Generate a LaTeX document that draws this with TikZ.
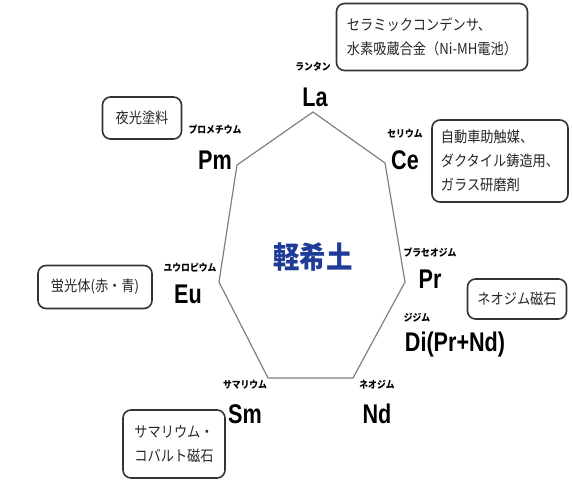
\documentclass[tikz,border=0pt]{standalone}
\usepackage{fontspec}
\setmainfont{Liberation Sans}
\newfontfamily\jpfont{Noto Sans CJK JP}[FakeStretch=0.88]
\newfontfamily\elfont{Liberation Sans}[FakeStretch=0.8]
\definecolor{kidoblue}{HTML}{1F3C98}
\definecolor{rahmen}{HTML}{333333}
\begin{document}
\begin{tikzpicture}[x=1pt,y=-1pt,
      usage/.style={draw=rahmen,line width=1.6pt,rounded corners=8pt,align=left,inner sep=0pt,
        text=black!85,font=\jpfont\fontsize{15}{24}\selectfont},
      elem/.style={inner sep=0pt,font=\elfont\bfseries\fontsize{27}{27}\selectfont},
      kana/.style={inner sep=0pt,font=\jpfont\bfseries\fontsize{10}{10}\selectfont},
      rim/.style={draw=gray,line width=1.2pt}]
    \useasboundingbox (0,0) rectangle (572,485);
    % heptagon
    \coordinate (vLa) at (313,112);
    \coordinate (vCe) at (385,163);
    \coordinate (vPr) at (405,282);
    \coordinate (vNd) at (353,378);
    \coordinate (vSm) at (268,378);
    \coordinate (vEu) at (219,282);
    \coordinate (vPm) at (237,165);
    \draw[rim] (vLa)--(vCe)--(vPr)--(vNd)--(vSm)--(vEu)--(vPm)--cycle;
    \node[font=\jpfont\bfseries\fontsize{30}{30}\selectfont,text=kidoblue] at (313,257) (light) {軽希土};
    % elements
    \node[kana] at (313,67) (kLa) {ランタン};
    \node[elem] at (315,97) (La) {La};
    \node[kana] at (215,130) (kPm) {プロメチウム};
    \node[elem] at (215,160) (Pm) {Pm};
    \node[kana] at (405,134) (kCe) {セリウム};
    \node[elem] at (405,160) (Ce) {Ce};
    \node[kana] at (190,268) (kEu) {ユウロピウム};
    \node[elem] at (188,294) (Eu) {Eu};
    \node[kana] at (430,253) (kPr) {プラセオジム};
    \node[elem] at (430,279) (Pr) {Pr};
    \node[kana] at (417,318) (kDi) {ジジム};
    \node[elem] at (455,345) (Di) {Di(Pr+Nd)};
    \node[kana] at (245,385) (kSm) {サマリウム};
    \node[elem] at (245,414) (Sm) {Sm};
    \node[kana] at (377,385) (kNd) {ネオジム};
    \node[elem] at (377,414) (Nd) {Nd};
    % uses
    \node[usage,minimum width=191pt,minimum height=67pt] at (432,37) (uLa) {セラミックコンデンサ、\\水素吸蔵合金（Ni-MH電池）};
    \node[usage,minimum width=79pt,minimum height=42pt] at (142,118) (uPm) {夜光塗料};
    \node[usage,minimum width=136pt,minimum height=82pt] at (500,161) (uCe) {自動車助触媒、\\ダクタイル鋳造用、\\ガラス研磨剤};
    \node[usage,minimum width=114pt,minimum height=43pt] at (95,287) (uEu) {蛍光体(赤・青)};
    \node[usage,minimum width=99pt,minimum height=40pt] at (517,299) (uNd) {ネオジム磁石};
    \node[usage,minimum width=102pt,minimum height=68pt] at (174,444) (uSm) {サマリウム・\\コバルト磁石};
\end{tikzpicture}
\end{document}
